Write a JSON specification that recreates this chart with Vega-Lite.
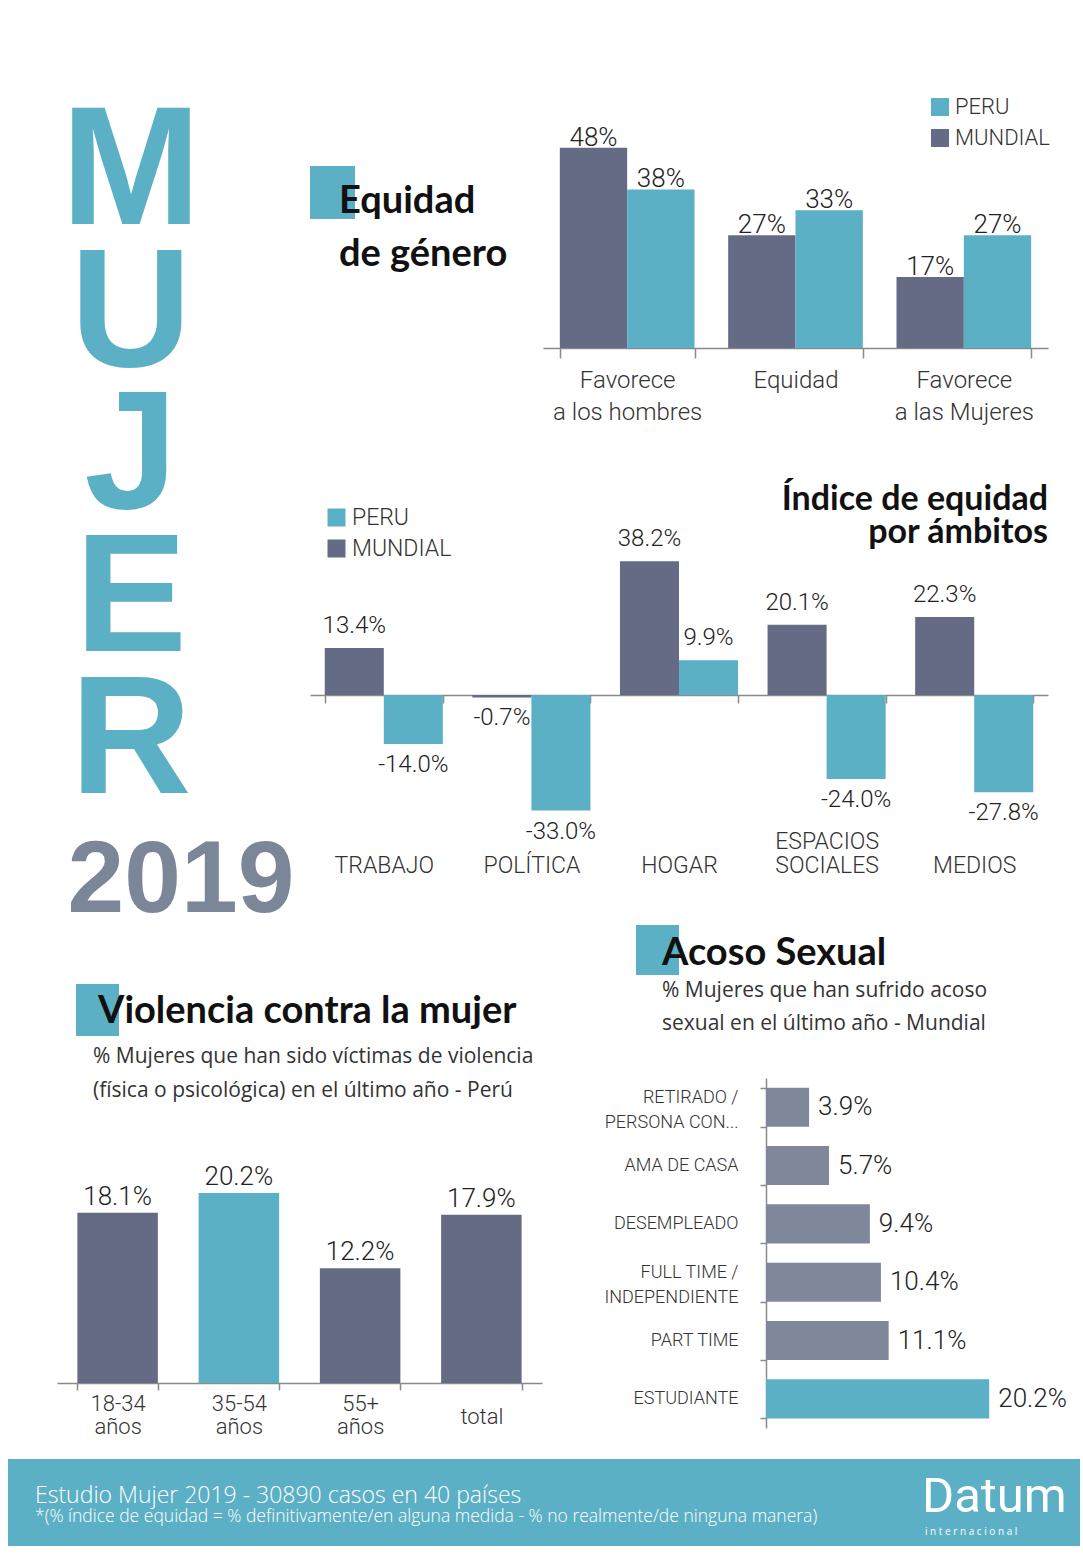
{
  "$schema": "https://vega.github.io/schema/vega-lite/v6.json",
  "width": 1072,
  "height": 1536,
  "autosize": "none",
  "padding": {"left": 8, "top": 10, "right": 3, "bottom": 8},
  "background": "#ffffff",
  "config": {
    "view": {"fill": "#e9eaee", "stroke": null},
    "locale": {"number": {"decimal": ".", "thousands": ",", "grouping": [3], "currency": ["$", ""], "minus": "-"}}
  },
  "resolve": {
    "scale": {"x": "independent", "y": "independent", "color": "independent", "xOffset": "independent"},
    "axis": {"x": "independent", "y": "independent"},
    "legend": {"color": "independent"}
  },
  "layer": [
    {
      "data": {"values": [{"letra": "M"}, {"letra": "U"}, {"letra": "J"}, {"letra": "E"}, {"letra": "R"}]},
      "mark": {"type": "text", "font": "Liberation Sans, sans-serif", "fontWeight": "bold", "fontSize": 168, "color": "#5bb0c6", "align": "center", "baseline": "alphabetic", "dx": -413, "dy": 60},
      "encoding": {
        "y": {"field": "letra", "type": "ordinal", "scale": {"type": "point", "domain": ["M", "U", "J", "E", "R", "2019"], "range": [154, 865], "padding": 0}, "axis": null},
        "text": {"field": "letra"}
      }
    },
    {
      "data": {"values": [{"letra": "2019"}]},
      "mark": {"type": "text", "font": "Liberation Sans, sans-serif", "fontWeight": "bold", "fontSize": 102, "color": "#7b8699", "align": "center", "baseline": "alphabetic", "dx": -363, "dy": 37},
      "encoding": {
        "y": {"field": "letra", "type": "ordinal", "scale": {"type": "point", "domain": ["M", "U", "J", "E", "R", "2019"], "range": [154, 865], "padding": 0}, "axis": null},
        "text": {"field": "letra"}
      }
    },
    {
      "data": {"values": [{"bloque": "Equidad de género"}]},
      "mark": {"type": "rect", "color": "#5bb0c6"},
      "encoding": {
        "x": {"field": "bloque", "type": "nominal", "scale": {"range": [302, 347], "paddingInner": 0, "paddingOuter": 0}, "axis": null},
        "y": {"field": "bloque", "type": "nominal", "scale": {"range": [156, 209], "paddingInner": 0, "paddingOuter": 0}, "axis": null}
      }
    },
    {
      "data": {"values": [{"bloque": "Acoso Sexual"}]},
      "mark": {"type": "rect", "color": "#5bb0c6"},
      "encoding": {
        "x": {"field": "bloque", "type": "nominal", "scale": {"range": [628, 671], "paddingInner": 0, "paddingOuter": 0}, "axis": null},
        "y": {"field": "bloque", "type": "nominal", "scale": {"range": [915, 965], "paddingInner": 0, "paddingOuter": 0}, "axis": null}
      }
    },
    {
      "data": {"values": [{"bloque": "Violencia contra la mujer"}]},
      "mark": {"type": "rect", "color": "#5bb0c6"},
      "encoding": {
        "x": {"field": "bloque", "type": "nominal", "scale": {"range": [68, 111], "paddingInner": 0, "paddingOuter": 0}, "axis": null},
        "y": {"field": "bloque", "type": "nominal", "scale": {"range": [974, 1026], "paddingInner": 0, "paddingOuter": 0}, "axis": null}
      }
    },
    {
      "data": {"values": [
        {"categoria": "Favorece a los hombres", "serie": "MUNDIAL", "valor": 0.48},
        {"categoria": "Favorece a los hombres", "serie": "PERU", "valor": 0.38},
        {"categoria": "Equidad", "serie": "MUNDIAL", "valor": 0.27},
        {"categoria": "Equidad", "serie": "PERU", "valor": 0.33},
        {"categoria": "Favorece a las Mujeres", "serie": "MUNDIAL", "valor": 0.17},
        {"categoria": "Favorece a las Mujeres", "serie": "PERU", "valor": 0.27}
      ]},
      "layer": [
        {
          "mark": {"type": "bar"},
          "encoding": {
            "x": {"field": "categoria", "type": "nominal", "sort": null, "scale": {"range": [535, 1040], "paddingInner": 0.2, "paddingOuter": 0.1},
              "axis": {"orient": "bottom", "offset": -1198, "title": null, "labelAngle": 0, "domainColor": "#8a8a8a", "domainWidth": 1.5, "tickColor": "#8a8a8a", "tickWidth": 1.5, "tickSize": 10, "tickBand": "extent", "labelPadding": 10, "labelBaseline": "top", "labelFont": "Roboto, sans-serif", "labelFontWeight": 300, "labelFontSize": 24, "labelColor": "#333333", "labelLineHeight": 32, "labelOverlap": false, "labelLimit": 0,
                "labelExpr": "datum.label == 'Equidad' ? datum.label : [slice(datum.label, 0, 8), slice(datum.label, 9)]"}},
            "xOffset": {"field": "serie", "type": "nominal", "scale": {"domain": ["MUNDIAL", "PERU"]}},
            "y": {"field": "valor", "type": "quantitative", "scale": {"domain": [0, 0.604], "range": [338, 86], "nice": false}, "axis": null},
            "color": {"field": "serie", "type": "nominal", "scale": {"domain": ["PERU", "MUNDIAL"], "range": ["#5bb0c6", "#656b85"]},
              "legend": {"title": null, "orient": "none", "legendX": 921, "legendY": 86, "padding": 0, "symbolType": "square", "symbolSize": 324, "symbolStrokeWidth": 0, "labelFont": "Roboto, sans-serif", "labelFontWeight": 300, "labelFontSize": 22, "labelColor": "#333333", "rowPadding": 9, "labelOffset": 4}}
          }
        },
        {
          "mark": {"type": "text", "baseline": "alphabetic", "dy": -2, "font": "Roboto, sans-serif", "fontWeight": 300, "fontSize": 26, "color": "#222222"},
          "encoding": {
            "x": {"field": "categoria", "type": "nominal", "sort": null},
            "xOffset": {"field": "serie", "type": "nominal"},
            "y": {"field": "valor", "type": "quantitative"},
            "text": {"field": "valor", "type": "quantitative", "format": ".0%"}
          }
        },
        {
          "data": {"values": [{}]},
          "mark": {"type": "text", "text": ["Equidad", "de género"], "align": "left", "baseline": "alphabetic", "dx": -205, "dy": -565, "lineHeight": 53, "font": "Lato, sans-serif", "fontWeight": "bold", "fontSize": 38, "color": "#111111"},
          "encoding": {}
        }
      ]
    },
    {
      "data": {"values": [
        {"ambito": "TRABAJO", "serie": "MUNDIAL", "valor": 0.134},
        {"ambito": "TRABAJO", "serie": "PERU", "valor": -0.14},
        {"ambito": "POLÍTICA", "serie": "MUNDIAL", "valor": -0.007},
        {"ambito": "POLÍTICA", "serie": "PERU", "valor": -0.33},
        {"ambito": "HOGAR", "serie": "MUNDIAL", "valor": 0.382},
        {"ambito": "HOGAR", "serie": "PERU", "valor": 0.099},
        {"ambito": "ESPACIOS SOCIALES", "serie": "MUNDIAL", "valor": 0.201},
        {"ambito": "ESPACIOS SOCIALES", "serie": "PERU", "valor": -0.24},
        {"ambito": "MEDIOS", "serie": "MUNDIAL", "valor": 0.223},
        {"ambito": "MEDIOS", "serie": "PERU", "valor": -0.278}
      ]},
      "layer": [
        {
          "mark": {"type": "bar"},
          "encoding": {
            "x": {"field": "ambito", "type": "nominal", "sort": null, "scale": {"range": [302, 1040], "paddingInner": 0.2, "paddingOuter": 0.1},
              "axis": {"orient": "bottom", "offset": -851, "title": null, "labelAngle": 0, "domainColor": "#8a8a8a", "domainWidth": 1.5, "tickColor": "#8a8a8a", "tickWidth": 1.5, "tickSize": 8, "tickBand": "extent", "labelPadding": 145, "labelBaseline": "alphabetic", "labelFont": "Roboto, sans-serif", "labelFontWeight": 300, "labelFontSize": 23, "labelColor": "#333333", "labelLineHeight": 24, "labelOverlap": false, "labelLimit": 0,
                "labelExpr": "datum.label == 'ESPACIOS SOCIALES' ? ['ESPACIOS', 'SOCIALES'] : ['', datum.label]"}},
            "xOffset": {"field": "serie", "type": "nominal", "scale": {"domain": ["MUNDIAL", "PERU"]}},
            "y": {"field": "valor", "type": "quantitative", "scale": {"domain": [-0.4, 0.4], "range": [825, 545], "nice": false}, "axis": null},
            "color": {"field": "serie", "type": "nominal", "scale": {"domain": ["PERU", "MUNDIAL"], "range": ["#5bb0c6", "#656b85"]},
              "legend": {"title": null, "orient": "none", "legendX": 317, "legendY": 496, "padding": 0, "symbolType": "square", "symbolSize": 324, "symbolStrokeWidth": 0, "labelFont": "Roboto, sans-serif", "labelFontWeight": 300, "labelFontSize": 23, "labelColor": "#333333", "rowPadding": 7, "labelOffset": 4}}
          }
        },
        {
          "transform": [{"filter": "datum.valor >= 0"}],
          "mark": {"type": "text", "baseline": "alphabetic", "dy": -15, "font": "Roboto, sans-serif", "fontWeight": 300, "fontSize": 24, "color": "#222222"},
          "encoding": {
            "x": {"field": "ambito", "type": "nominal", "sort": null},
            "xOffset": {"field": "serie", "type": "nominal"},
            "y": {"field": "valor", "type": "quantitative"},
            "text": {"field": "valor", "type": "quantitative", "format": ".1%"}
          }
        },
        {
          "transform": [{"filter": "datum.valor < 0"}],
          "mark": {"type": "text", "baseline": "top", "dy": 9, "font": "Roboto, sans-serif", "fontWeight": 300, "fontSize": 24, "color": "#222222"},
          "encoding": {
            "x": {"field": "ambito", "type": "nominal", "sort": null},
            "xOffset": {"field": "serie", "type": "nominal"},
            "y": {"field": "valor", "type": "quantitative"},
            "text": {"field": "valor", "type": "quantitative", "format": ".1%"}
          }
        },
        {
          "data": {"values": [{}]},
          "mark": {"type": "text", "text": ["Índice de equidad", "por ámbitos"], "align": "right", "baseline": "alphabetic", "dx": 504, "dy": -268, "lineHeight": 33, "font": "Lato, sans-serif", "fontWeight": "bold", "fontSize": 34, "color": "#111111"},
          "encoding": {}
        }
      ]
    },
    {
      "data": {"values": [
        {"grupo": "18-34 años", "valor": 0.181},
        {"grupo": "35-54 años", "valor": 0.202},
        {"grupo": "55+ años", "valor": 0.122},
        {"grupo": "total", "valor": 0.179}
      ]},
      "layer": [
        {
          "mark": {"type": "bar"},
          "encoding": {
            "x": {"field": "grupo", "type": "nominal", "sort": null, "scale": {"range": [49, 534], "paddingInner": 0.336, "paddingOuter": 0.168},
              "axis": {"orient": "bottom", "offset": -163, "title": null, "labelAngle": 0, "domainColor": "#8a8a8a", "domainWidth": 1.5, "tickColor": "#8a8a8a", "tickWidth": 1.5, "tickSize": 7, "tickBand": "extent",
                "labelPadding": {"condition": {"test": "datum.value == 'total'", "value": 33}, "value": 20},
                "labelBaseline": "alphabetic", "labelFont": "Roboto, sans-serif", "labelFontWeight": 300, "labelFontSize": 22, "labelColor": "#333333", "labelLineHeight": 23, "labelOverlap": false, "labelLimit": 0,
                "labelExpr": "datum.label == 'total' ? datum.label : split(datum.label, ' ')"}},
            "y": {"field": "valor", "type": "quantitative", "scale": {"domain": [0, 0.25], "range": [1373, 1138], "nice": false}, "axis": null},
            "color": {"condition": {"test": "datum.grupo == '35-54 años'", "value": "#5bb0c6"}, "value": "#656b85"}
          }
        },
        {
          "mark": {"type": "text", "baseline": "alphabetic", "dy": -8, "font": "Roboto, sans-serif", "fontWeight": 300, "fontSize": 26, "color": "#222222"},
          "encoding": {
            "x": {"field": "grupo", "type": "nominal", "sort": null},
            "y": {"field": "valor", "type": "quantitative"},
            "text": {"field": "valor", "type": "quantitative", "format": ".1%"}
          }
        },
        {
          "data": {"values": [{}]},
          "mark": {"type": "text", "text": "Violencia contra la mujer", "align": "left", "baseline": "alphabetic", "dx": -446, "dy": 245, "font": "Lato, sans-serif", "fontWeight": "bold", "fontSize": 38, "color": "#111111"},
          "encoding": {}
        },
        {
          "data": {"values": [{}]},
          "mark": {"type": "text", "text": ["% Mujeres que han sido víctimas de violencia", "(física o psicológica) en el último año - Perú"], "align": "left", "baseline": "alphabetic", "dx": -451, "dy": 285, "lineHeight": 34, "font": "Open Sans, sans-serif", "fontSize": 21, "color": "#333333"},
          "encoding": {}
        }
      ]
    },
    {
      "data": {"values": [
        {"ocupacion": "RETIRADO / PERSONA CON...", "valor": 0.039},
        {"ocupacion": "AMA DE CASA", "valor": 0.057},
        {"ocupacion": "DESEMPLEADO", "valor": 0.094},
        {"ocupacion": "FULL TIME / INDEPENDIENTE", "valor": 0.104},
        {"ocupacion": "PART TIME", "valor": 0.111},
        {"ocupacion": "ESTUDIANTE", "valor": 0.202}
      ]},
      "layer": [
        {
          "mark": {"type": "bar"},
          "encoding": {
            "y": {"field": "ocupacion", "type": "nominal", "sort": null, "scale": {"range": [1068, 1418], "paddingInner": 0.33, "paddingOuter": 0.165},
              "axis": {"orient": "left", "offset": -758, "title": null, "domainColor": "#8a8a8a", "domainWidth": 1.5, "tickColor": "#8a8a8a", "tickWidth": 1.5, "tickSize": 6, "tickBand": "extent", "labelPadding": 22,
                "labelOffset": {"condition": {"test": "datum.value == 'RETIRADO / PERSONA CON...' || datum.value == 'FULL TIME / INDEPENDIENTE'", "value": -10}, "value": 0},
                "labelFont": "Roboto, sans-serif", "labelFontWeight": 300, "labelFontSize": 18, "labelColor": "#333333", "labelLineHeight": 25, "labelOverlap": false, "labelLimit": 0,
                "labelExpr": "datum.label == 'RETIRADO / PERSONA CON...' ? ['RETIRADO /', 'PERSONA CON...'] : datum.label == 'FULL TIME / INDEPENDIENTE' ? ['FULL TIME /', 'INDEPENDIENTE'] : datum.label"}},
            "x": {"field": "valor", "type": "quantitative", "scale": {"domain": [0, 0.25], "range": [758, 1034.25], "nice": false}, "axis": null},
            "color": {"condition": {"test": "datum.ocupacion == 'ESTUDIANTE'", "value": "#5bb0c6"}, "value": "#7e889a"}
          }
        },
        {
          "mark": {"type": "text", "align": "left", "baseline": "middle", "dx": 9, "font": "Roboto, sans-serif", "fontWeight": 300, "fontSize": 26, "color": "#222222"},
          "encoding": {
            "y": {"field": "ocupacion", "type": "nominal", "sort": null},
            "x": {"field": "valor", "type": "quantitative"},
            "text": {"field": "valor", "type": "quantitative", "format": ".1%"}
          }
        },
        {
          "data": {"values": [{}]},
          "mark": {"type": "text", "text": "Acoso Sexual", "align": "left", "baseline": "alphabetic", "dx": 118, "dy": 187, "font": "Lato, sans-serif", "fontWeight": "bold", "fontSize": 38, "color": "#111111"},
          "encoding": {}
        },
        {
          "data": {"values": [{}]},
          "mark": {"type": "text", "text": ["% Mujeres que han sufrido acoso", "sexual en el último año - Mundial"], "align": "left", "baseline": "alphabetic", "dx": 118, "dy": 219, "lineHeight": 33, "font": "Open Sans, sans-serif", "fontSize": 21, "color": "#333333"},
          "encoding": {}
        }
      ]
    },
    {
      "data": {"values": [{"zona": "Estudio Mujer 2019"}]},
      "encoding": {
        "y": {"field": "zona", "type": "nominal", "scale": {"range": [1449, 1536], "paddingInner": 0, "paddingOuter": 0}, "axis": null}
      },
      "layer": [
        {"mark": {"type": "rect", "color": "#5cb0c6"}},
        {"mark": {"type": "text", "text": "Estudio Mujer 2019 - 30890 casos en 40 países", "align": "left", "baseline": "alphabetic", "dx": -509, "dy": 0, "font": "Open Sans, sans-serif", "fontWeight": 300, "fontSize": 23, "color": "#ffffff"}},
        {"mark": {"type": "text", "text": "*(% índice de equidad = % definitivamente/en alguna medida - % no realmente/de ninguna manera)", "align": "left", "baseline": "alphabetic", "dx": -509, "dy": 19, "font": "Open Sans, sans-serif", "fontWeight": 300, "fontSize": 17.5, "color": "#ffffff"}},
        {"mark": {"type": "text", "text": "Datum", "align": "left", "baseline": "alphabetic", "dx": 378, "dy": 9, "font": "Roboto, sans-serif", "fontSize": 49, "color": "#ffffff"}},
        {"mark": {"type": "text", "text": "i  n  t  e  r  n  a  c  i  o  n  a  l", "align": "left", "baseline": "alphabetic", "dx": 381, "dy": 32, "font": "Open Sans, sans-serif", "fontSize": 10, "color": "#ffffff"}}
      ]
    }
  ]
}
